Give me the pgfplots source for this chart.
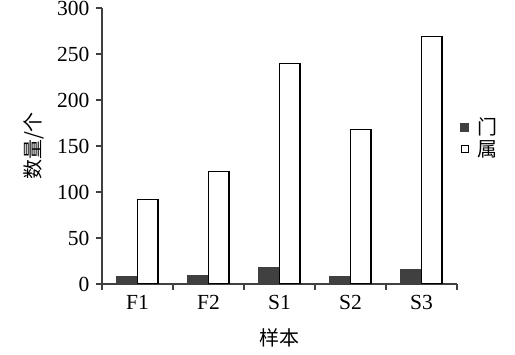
\documentclass[border=0pt]{standalone}
\usepackage{pgfplots}
\pgfplotsset{compat=1.18}
\usepackage{fontspec}
\setmainfont{Liberation Serif}
\newfontfamily\cjk{Noto Sans CJK SC}
\definecolor{darkbar}{HTML}{404040}
\definecolor{axgray}{HTML}{404040}
\begin{document}
\begin{tikzpicture}[x=1pt,y=1pt]
\useasboundingbox (0,0) rectangle (515,355);
\begin{axis}[
  at={(102pt,71pt)}, anchor=south west,
  scale only axis, width=355pt, height=276pt,
  ybar=0pt, bar width=20.5pt,
  xmin=-0.5, xmax=4.5, ymin=0, ymax=300,
  axis lines*=left,
  axis line style={axgray, line width=1.2pt},
  xtick={0,1,2,3,4},
  xticklabels={F1,F2,S1,S2,S3},
  major x tick style={draw=none},
  minor xtick={-0.5,0.5,1.5,2.5,3.5,4.5},
  minor x tick style={axgray, line width=1.2pt},
  minor tick length=6pt,
  ytick={0,50,...,300},
  major y tick style={axgray, line width=1.2pt},
  major tick length=6pt,
  tick align=outside,
  tick label style={font=\fontsize{21.5}{24}\selectfont},
  yticklabel style={xshift=-3pt},
  xticklabel style={yshift=-2pt},
  /pgf/number format/assume math mode=true,
  xlabel={\cjk 样本},
  ylabel={\cjk 数量/个},
  xlabel style={yshift=-12pt},
  ylabel style={yshift=6pt},
  label style={font=\fontsize{20}{24}\selectfont},
  legend style={draw=none, fill=none, at={(1.0,0.53)}, anchor=west,
    font=\fontsize{20}{24}\selectfont, row sep=0pt},
  legend cell align=left,
  enlarge x limits=false,
]
\addplot[fill=darkbar, draw=darkbar, line width=1pt,
  legend image code/.code={\fill[darkbar] (0pt,-4pt) rectangle (8pt,4pt);}]
  coordinates {(0,8) (1,9) (2,18) (3,8) (4,16)};
\addlegendentry{\hspace{6pt}\cjk 门}
\addplot[fill=white, draw=black, line width=1.2pt,
  legend image code/.code={\draw[black, fill=white, line width=1pt] (0.5pt,-3.5pt) rectangle (7.5pt,3.5pt);}]
  coordinates {(0,92) (1,122) (2,240) (3,168) (4,269)};
\addlegendentry{\hspace{6pt}\cjk 属}
\end{axis}
\end{tikzpicture}
\end{document}
